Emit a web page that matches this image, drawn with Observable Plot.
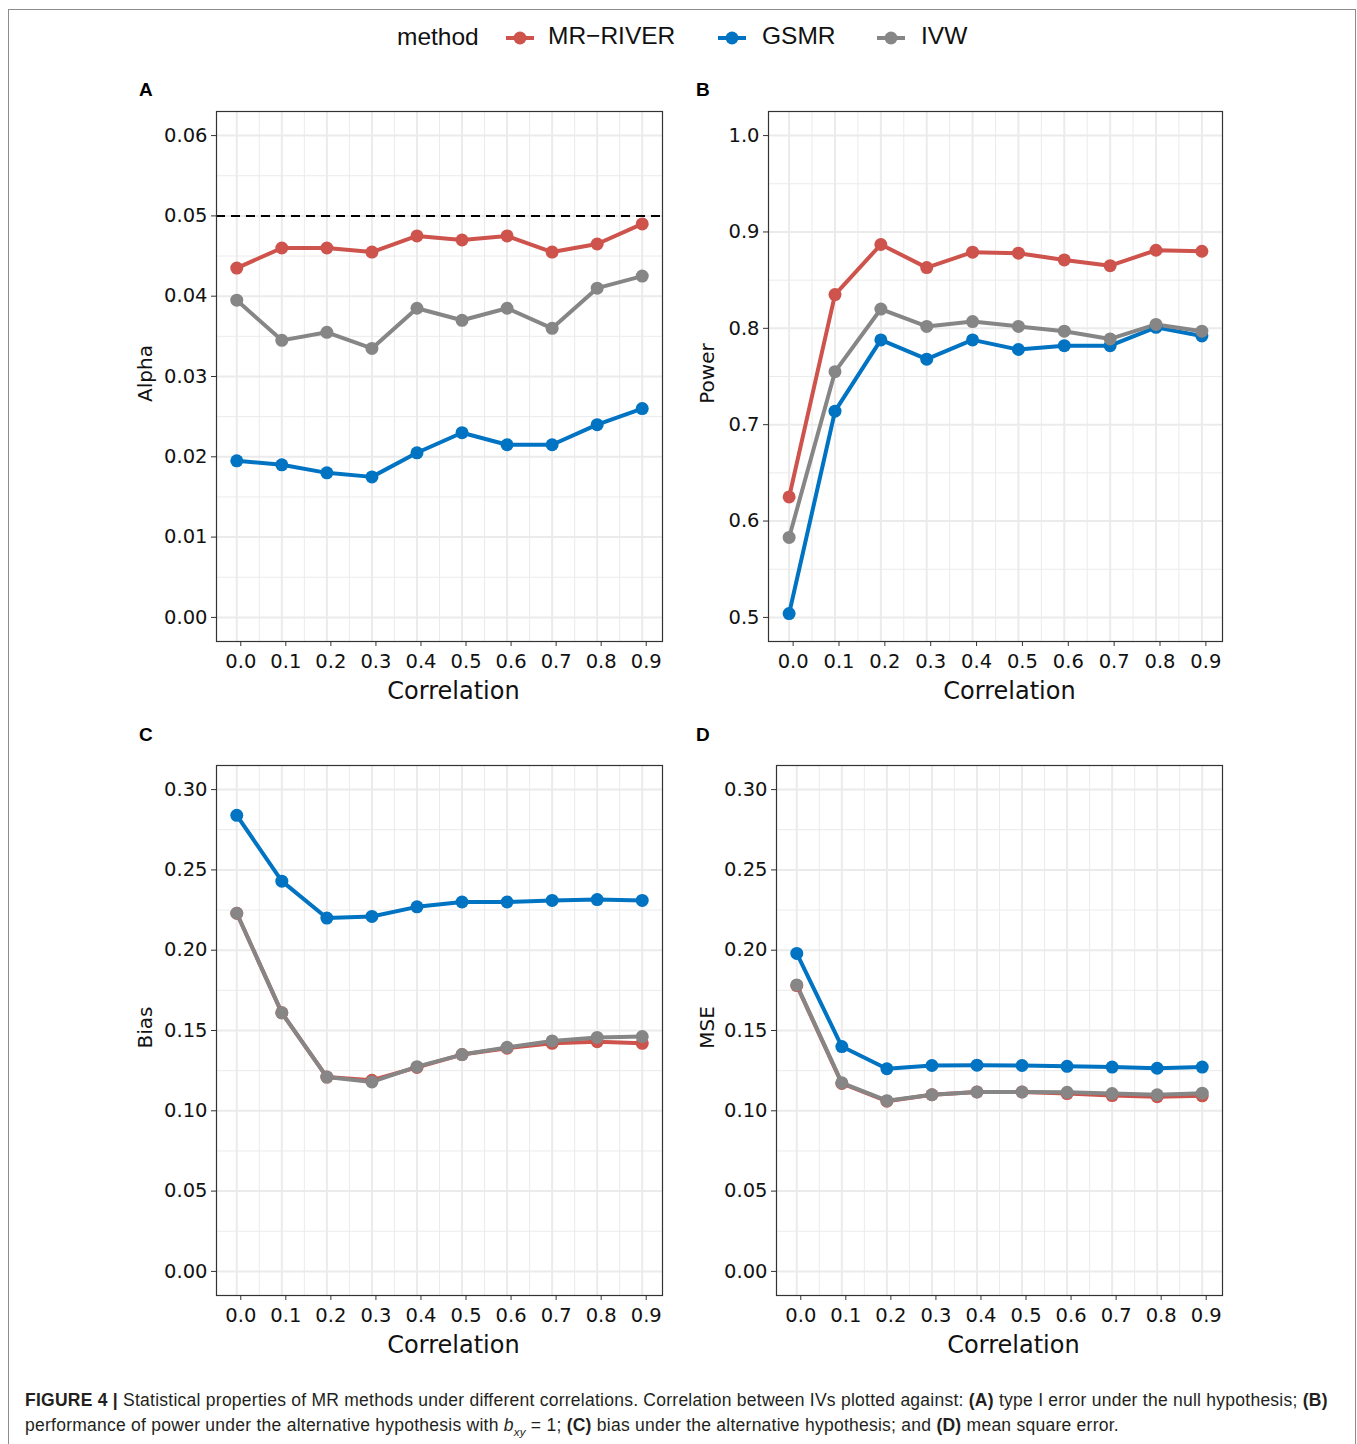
<!DOCTYPE html>
<html>
<head>
<meta charset="utf-8">
<script src="https://cdn.jsdelivr.net/npm/d3@7"></script>
<script src="https://cdn.jsdelivr.net/npm/@observablehq/plot@0.6"></script>
<style>
  body { margin: 0; background: #fff; }
  #root { position: relative; width: 1357px; height: 1444px; overflow: hidden; background: #fff;
          font-family: "Liberation Sans", Arial, Helvetica, sans-serif; color: #111; }
  .outer { position: absolute; left: 8px; top: 9px; width: 1348px; height: 1460px; border: 1px solid #8c8c8c; box-sizing: border-box; }
  .panel { position: absolute; }
  .letter { position: absolute; font-weight: bold; font-size: 19px; line-height: 20px; color: #000; }
  .leg { position: absolute; font-size: 24.5px; line-height: 28px; white-space: nowrap; color: #111; }
  .sw { position: absolute; }
  .caption { position: absolute; left: 25px; top: 1388px; font-size: 17.5px; letter-spacing: 0.25px; line-height: 25px; color: #231f20; white-space: nowrap; }
  .caption b { font-weight: bold; }
</style>
</head>
<body>
<div id="root">
  <div class="outer"></div>
  <div id="legend"></div>
  <div class="letter" style="left:139px;top:80px">A</div>
  <div class="letter" style="left:696px;top:80px">B</div>
  <div class="letter" style="left:139px;top:725px">C</div>
  <div class="letter" style="left:696px;top:725px">D</div>
  <div id="pA" class="panel" style="left:120px;top:100px"></div>
  <div id="pB" class="panel" style="left:672px;top:100px"></div>
  <div id="pC" class="panel" style="left:120px;top:754px"></div>
  <div id="pD" class="panel" style="left:680px;top:754px"></div>
  <div class="caption">
    <b>FIGURE 4 |</b> Statistical properties of MR methods under different correlations. Correlation between IVs plotted against: <b>(A)</b> type I error under the null hypothesis; <b>(B)</b><br>
    performance of power under the alternative hypothesis with <i>b<sub style="font-size:11.5px">xy</sub></i> = 1; <b>(C)</b> bias under the alternative hypothesis; and <b>(D)</b> mean square error.
  </div>
</div>
<script>
// ---------------- data ----------------
const correlation = [0.0, 0.1, 0.2, 0.3, 0.4, 0.5, 0.6, 0.7, 0.8, 0.9];
const methods = ["MR\u2212RIVER", "GSMR", "IVW"];
const methodColors = ["#CD534C", "#0073C2", "#868686"];

// Panel A: Alpha (type I error)
const alphaRiver = [0.0435, 0.046, 0.046, 0.0455, 0.0475, 0.047, 0.0475, 0.0455, 0.0465, 0.049];
const alphaGsmr  = [0.0195, 0.019, 0.018, 0.0175, 0.0205, 0.023, 0.0215, 0.0215, 0.024, 0.026];
const alphaIvw   = [0.0395, 0.0345, 0.0355, 0.0335, 0.0385, 0.037, 0.0385, 0.036, 0.041, 0.0425];
const alphaRef = [0.05];

// Panel B: Power
const powerRiver = [0.625, 0.835, 0.887, 0.863, 0.879, 0.878, 0.871, 0.865, 0.881, 0.880];
const powerGsmr  = [0.504, 0.714, 0.788, 0.768, 0.788, 0.778, 0.782, 0.782, 0.801, 0.792];
const powerIvw   = [0.583, 0.755, 0.820, 0.802, 0.807, 0.802, 0.797, 0.789, 0.804, 0.797];

// Panel C: Bias
const biasRiver = [0.223, 0.161, 0.121, 0.119, 0.127, 0.135, 0.139, 0.142, 0.143, 0.142];
const biasGsmr  = [0.284, 0.243, 0.220, 0.221, 0.227, 0.230, 0.230, 0.231, 0.2315, 0.231];
const biasIvw   = [0.223, 0.161, 0.121, 0.118, 0.1275, 0.135, 0.1395, 0.1435, 0.1457, 0.1462];

// Panel D: MSE
const mseRiver = [0.178, 0.117, 0.106, 0.110, 0.1117, 0.1117, 0.1107, 0.1095, 0.1088, 0.1093];
const mseGsmr  = [0.198, 0.140, 0.1262, 0.1282, 0.1284, 0.1282, 0.1277, 0.1272, 0.1265, 0.1272];
const mseIvw   = [0.1784, 0.1174, 0.1063, 0.110, 0.1117, 0.1117, 0.1115, 0.1107, 0.110, 0.111];

// tick values
const xMinor = [0.05, 0.15, 0.25, 0.35, 0.45, 0.55, 0.65, 0.75, 0.85];
const alphaTicks = [0, 0.01, 0.02, 0.03, 0.04, 0.05, 0.06];
const alphaMinor = [0.005, 0.015, 0.025, 0.035, 0.045, 0.055];
const powerTicks = [0.5, 0.6, 0.7, 0.8, 0.9, 1.0];
const powerMinor = [0.55, 0.65, 0.75, 0.85, 0.95];
const errTicks = [0, 0.05, 0.10, 0.15, 0.20, 0.25, 0.30];
const errMinor = [0.025, 0.075, 0.125, 0.175, 0.225, 0.275];

// ---------------- helpers ----------------
function longTable(series) {
  const rows = [];
  methods.forEach((m, i) => correlation.forEach((c, j) => rows.push({ method: m, x: c, y: series[i][j] })));
  return rows;
}

function makePanel(o) {
  const data = longTable(o.series);
  const plotH = 530;
  const mL = 96, mT = 11, mB = 79;
  const grid = "#EBEBEB";
  return Plot.plot({
    width: mL + o.plotW + o.mR,
    height: mT + plotH + mB,
    marginLeft: mL, marginRight: o.mR, marginTop: mT, marginBottom: mB,
    style: { fontFamily: "'DejaVu Sans', sans-serif", color: "#111", background: "transparent", overflow: "visible" },
    x: { domain: [-0.045, 0.945] },
    y: { domain: o.yDomain },
    color: { domain: methods, range: methodColors },
    marks: [
      Plot.gridX(xMinor, { stroke: grid, strokeOpacity: 1, strokeWidth: 1 }),
      Plot.gridY(o.yMinor, { stroke: grid, strokeOpacity: 1, strokeWidth: 1 }),
      Plot.gridX(correlation, { stroke: grid, strokeOpacity: 1, strokeWidth: 2 }),
      Plot.gridY(o.yTicks, { stroke: grid, strokeOpacity: 1, strokeWidth: 2 }),
      o.ref ? Plot.ruleY(o.ref, { stroke: "#000", strokeWidth: 2, strokeDasharray: "9,6" }) : null,
      Plot.line(data, { x: "x", y: "y", z: "method", stroke: "method", strokeWidth: 4 }),
      Plot.dot(data, { x: "x", y: "y", fill: "method", r: 6.5 }),
      Plot.frame({ stroke: "#333", strokeWidth: 1.2 }),
      Plot.axisX(correlation, { tickSize: 5, tickPadding: 8, stroke: "#333", fill: "#111", fontSize: 19.5, dx: 4,
                                tickFormat: d => d.toFixed(1), label: null }),
      Plot.axisY(o.yTicks, { tickSize: 5, tickPadding: 4, stroke: "#333", fill: "#111", fontSize: 19.5,
                             tickFormat: d => d.toFixed(o.digits), label: null }),
      Plot.text(["Correlation"], { frameAnchor: "bottom", dy: 57, dx: 14, text: d => d, fontSize: 24, fill: "#111" }),
      Plot.text([o.label], { frameAnchor: "left", textAnchor: "middle", rotate: -90, dx: o.labelDx, dy: -3,
                             text: d => d, fontSize: 20, fill: "#111" })
    ]
  });
}

document.getElementById("pA").append(makePanel({
  series: [alphaRiver, alphaGsmr, alphaIvw], yDomain: [-0.003, 0.063], yTicks: alphaTicks, yMinor: alphaMinor,
  digits: 2, label: "Alpha", plotW: 446, mR: 28, labelDx: -71, ref: alphaRef
}));
document.getElementById("pB").append(makePanel({
  series: [powerRiver, powerGsmr, powerIvw], yDomain: [0.475, 1.025], yTicks: powerTicks, yMinor: powerMinor,
  digits: 1, label: "Power", plotW: 454, mR: 20, labelDx: -61
}));
document.getElementById("pC").append(makePanel({
  series: [biasRiver, biasGsmr, biasIvw], yDomain: [-0.015, 0.315], yTicks: errTicks, yMinor: errMinor,
  digits: 2, label: "Bias", plotW: 446, mR: 28, labelDx: -71
}));
document.getElementById("pD").append(makePanel({
  series: [mseRiver, mseGsmr, mseIvw], yDomain: [-0.015, 0.315], yTicks: errTicks, yMinor: errMinor,
  digits: 2, label: "MSE", plotW: 446, mR: 28, labelDx: -69
}));

// ---------------- legend ----------------
const legend = document.getElementById("legend");
const legTitle = document.createElement("div");
legTitle.className = "leg";
legTitle.style.left = "397px"; legTitle.style.top = "23px";
legTitle.textContent = "method";
legend.append(legTitle);
const swLeft = [505, 717, 876];
const txtLeft = [548, 762, 921];
methods.forEach((m, i) => {
  const ns = "http://www.w3.org/2000/svg";
  const svg = document.createElementNS(ns, "svg");
  svg.setAttribute("width", 30); svg.setAttribute("height", 20);
  svg.setAttribute("class", "sw");
  svg.style.left = swLeft[i] + "px"; svg.style.top = "28px";
  const ln = document.createElementNS(ns, "line");
  ln.setAttribute("x1", 1); ln.setAttribute("x2", 29); ln.setAttribute("y1", 10); ln.setAttribute("y2", 10);
  ln.setAttribute("stroke", methodColors[i]); ln.setAttribute("stroke-width", 4);
  const c = document.createElementNS(ns, "circle");
  c.setAttribute("cx", 15); c.setAttribute("cy", 10); c.setAttribute("r", 6.5); c.setAttribute("fill", methodColors[i]);
  svg.append(ln, c);
  legend.append(svg);
  const t = document.createElement("div");
  t.className = "leg";
  t.style.left = txtLeft[i] + "px"; t.style.top = "22px";
  t.textContent = m;
  legend.append(t);
});
</script>
</body>
</html>
